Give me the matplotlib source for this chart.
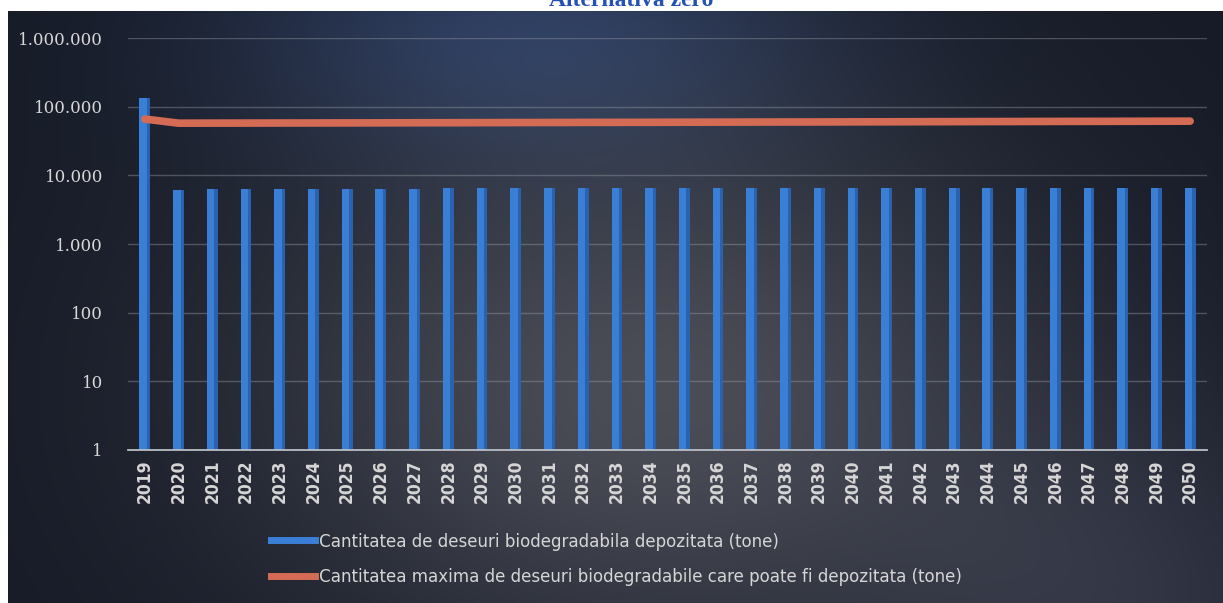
import numpy as np
import matplotlib
matplotlib.use("Agg")
import matplotlib.pyplot as plt
from matplotlib.lines import Line2D
from matplotlib.ticker import FixedLocator, FuncFormatter

# ---- data -------------------------------------------------------------
years = list(range(2019, 2051))
depozitat = [135000, 6200, 6250, 6250, 6300, 6300, 6400, 6400, 6400, 6450,
             6450, 6450, 6500, 6500, 6500, 6500, 6550, 6550, 6550, 6550,
             6550, 6600, 6600, 6600, 6600, 6600, 6600, 6600, 6600, 6600,
             6600, 6600]
maxim = [66000, 57500, 57600, 57700, 57800, 57900, 58000, 58100, 58300, 58400,
         58500, 58700, 58800, 59000, 59100, 59200, 59400, 59500, 59700, 59800,
         59900, 60100, 60200, 60400, 60500, 60700, 60800, 61000, 61100, 61200,
         61400, 61500]
yticks = [1, 10, 100, 1000, 10000, 100000, 1000000]

lbl_bar = "Cantitatea de deseuri biodegradabila depozitata (tone)"
lbl_line = "Cantitatea maxima de deseuri biodegradabile care poate fi depozitata (tone)"

W, H = 1223, 603
fig = plt.figure(figsize=(W / 100, H / 100), dpi=100)
fig.patch.set_facecolor("white")

# dark backdrop with a lighter patch in the middle
top = 11
bg = fig.add_axes([8 / W, 0, 1 - 8 / W, 1 - top / H])
bg.set_axis_off()
gx, gy = np.meshgrid(np.arange(W - 8), np.arange(H - top))
base = np.array([22, 26, 38], float)
blob1 = np.exp(-(((gx - 640) / 400) ** 2 + ((gy - 380) / 280) ** 2))
blob2 = np.exp(-(((gx - 520) / 300) ** 2 + ((gy - 20) / 130) ** 2))
blob3 = np.exp(-(((gx - 1100) / 250) ** 2 + ((gy - 600) / 200) ** 2))
img = (base[None, None, :]
       + blob1[..., None] * np.array([52, 51, 48])
       + blob2[..., None] * np.array([18, 30, 52])
       + blob3[..., None] * np.array([22, 22, 25]))
bg.imshow(np.clip(img, 0, 255).astype(np.uint8), aspect="auto")

ax = fig.add_axes([128 / W, 1 - 450 / H, (1207 - 128) / W, (450 - 38) / H])
ax.patch.set_alpha(0)
x = np.arange(len(years))

ax.bar(x, depozitat, width=0.32, color="#3a7fd6", zorder=2)
ax.bar(x + 0.11, depozitat, width=0.1, color="#2a62b0", zorder=2)
ax.plot(x, maxim, color="#d46b55", lw=5.5, solid_capstyle="round", zorder=3)

ax.set_yscale("log")
ax.set_ylim(1, 1000000)
ax.set_xlim(-0.5, len(years) - 0.5)
ax.yaxis.set_major_locator(FixedLocator(yticks))
ax.yaxis.set_minor_locator(FixedLocator([]))
ax.yaxis.set_major_formatter(FuncFormatter(lambda v, p: f"{int(v):,}".replace(",", ".")))
ax.grid(axis="y", color="#9aa0aa", alpha=0.4, lw=1, zorder=0)
ax.set_xticks(x)
ax.set_xticklabels([str(y) for y in years], rotation=90, fontsize=12.5,
                   family="DejaVu Sans", fontstretch="condensed",
                   fontweight="bold", color="#d6d6d6")
for lab in ax.get_yticklabels():
    lab.set_fontfamily("DejaVu Serif")
    lab.set_fontsize(12)
    lab.set_color("#d8d8d8")
ax.tick_params(axis="both", length=0)
ax.tick_params(axis="y", pad=18)
ax.tick_params(axis="x", pad=7)
for s in ["left", "right", "top"]:
    ax.spines[s].set_visible(False)
ax.spines["bottom"].set_color("#b9bec6")
ax.spines["bottom"].set_linewidth(1.3)

handles = [Line2D([0], [0], color="#3a7fd6", lw=5),
           Line2D([0], [0], color="#d46b55", lw=5)]
fig.legend(handles, [lbl_bar, lbl_line], loc="upper left",
           bbox_to_anchor=(254 / W, 1 - 516 / H), frameon=False,
           handlelength=2.4, handletextpad=0.2, labelspacing=0.95,
           prop={"family": "DejaVu Sans", "stretch": "condensed", "size": 13.3},
           labelcolor="#d6d6d6")

fig.text(631 / W, 1 - 6 / H, "Alternativa zero", ha="center", va="baseline",
         family="Liberation Serif", fontweight="bold", fontsize=17, color="#2451b3")

fig.savefig("out.png", dpi=100, facecolor=fig.get_facecolor())
